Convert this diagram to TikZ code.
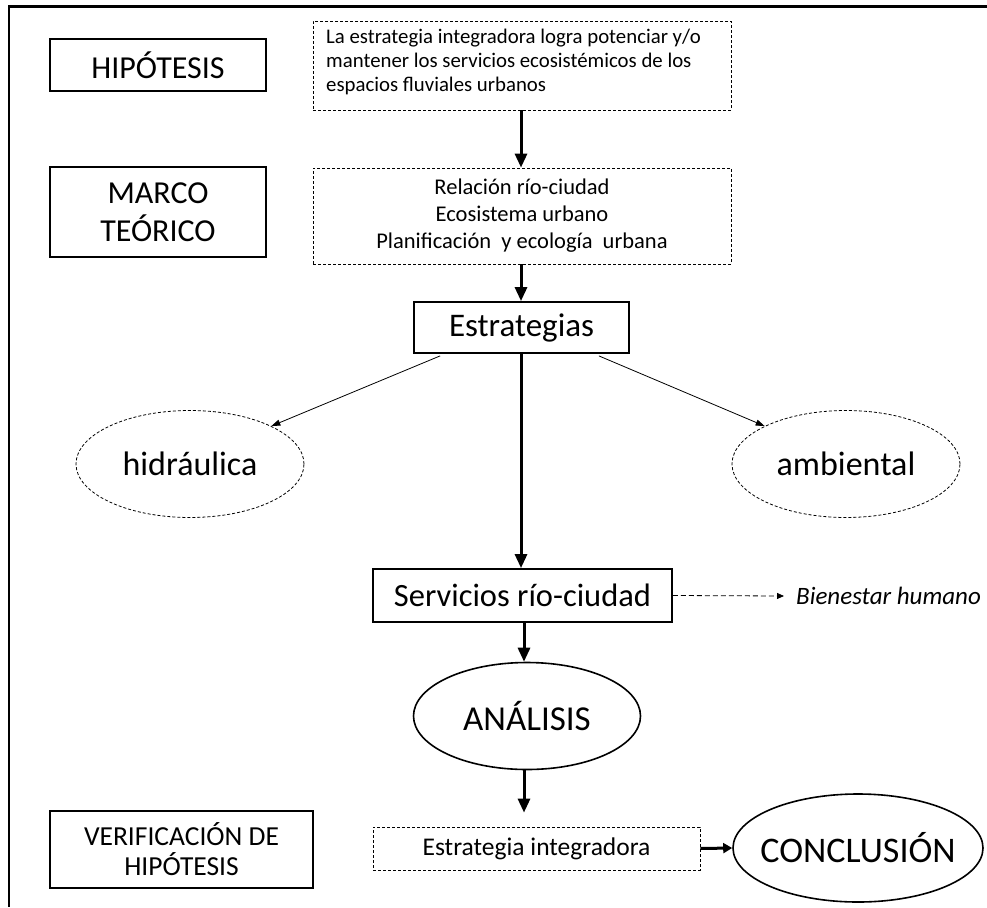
\documentclass[tikz,border=0pt]{standalone}
\usepackage{fontspec}
\setmainfont{Carlito}
\usetikzlibrary{arrows.meta,shapes.geometric,calc}
\begin{document}
\begin{tikzpicture}[x=1pt,y=-1pt,
  solidbox/.style={draw,line width=1.8pt,inner sep=0pt,align=center},
  dashbox/.style={draw,line width=0.8pt,dash pattern=on 3pt off 2pt,inner sep=0pt,align=center},
  dashell/.style={draw,ellipse,line width=0.8pt,dash pattern=on 3pt off 2pt,inner sep=0pt},
  solidell/.style={draw,ellipse,line width=1.6pt,inner sep=0pt},
  bigarrow/.style={line width=3pt,-{Triangle[width=12pt,length=14pt]}},
  thinarrow/.style={line width=0.8pt,-{Triangle[width=6pt,length=9pt]}},
  dasharrow/.style={line width=0.8pt,dash pattern=on 5pt off 3pt,-{Triangle[width=6pt,length=7pt]}},
  big/.style={font=\fontsize{33}{38}\selectfont},
]
\useasboundingbox (0,0) rectangle (987,907);
% frame
\draw[line width=3pt] (9,7) coordinate (tl) -- (987,7) coordinate (tr);
\draw[line width=1.2pt] (9,5.5) -- (9,907) coordinate (bl);

\node[solidbox,minimum width=216pt,minimum height=52pt,font=\fontsize{32}{38}\selectfont] (hip) at (158,65) {HIPÓTESIS};
\node[dashbox,minimum width=418pt,minimum height=89pt] (hyp) at (522,65.5) {};
\node[anchor=north west,align=left,inner sep=0pt,font=\fontsize{20.8}{24}\selectfont] (hyptext) at (326,29)
  {La estrategia integradora logra potenciar y/o\\mantener los servicios ecosistémicos de los\\espacios fluviales urbanos};

\node[solidbox,minimum width=216pt,minimum height=90pt,font=\fontsize{32}{38}\selectfont] (marco) at (158,212) {MARCO\\TEÓRICO};
\node[dashbox,minimum width=418pt,minimum height=96pt,font=\fontsize{22.5}{27}\selectfont] (mt) at (522,216)
  {Relación río-ciudad\\Ecosistema urbano\\Planificación \ y ecología \ urbana};

\node[solidbox,minimum width=215pt,minimum height=51pt,big] (estr) at (521.5,327.5) {Estrategias};
\node[dashell,minimum width=228pt,minimum height=107pt,font=\fontsize{34}{38}\selectfont] (hidr) at (190,464) {\makebox[0pt]{hidráulica}};
\node[dashell,minimum width=228pt,minimum height=107pt,font=\fontsize{34}{38}\selectfont] (amb) at (846,464) {\makebox[0pt]{ambiental}};

\node[solidbox,minimum width=299pt,minimum height=53pt,font=\fontsize{32.5}{38}\selectfont] (serv) at (522.5,595.5) {Servicios río-ciudad};
\node[anchor=west,inner sep=0pt,font=\fontsize{25}{28}\selectfont\itshape] (bien) at (796,596) {Bienestar humano};

\node[solidell,minimum width=227pt,minimum height=107pt,font=\fontsize{35}{40}\selectfont] (anal) at (527,716) {\makebox[0pt]{ANÁLISIS}};

\node[solidbox,minimum width=263pt,minimum height=77pt,font=\fontsize{27.5}{30}\selectfont] (verif) at (181.5,849.5) {VERIFICACIÓN DE\\HIPÓTESIS};
\node[dashbox,minimum width=327pt,minimum height=43pt,font=\fontsize{25.5}{28}\selectfont] (ei) at (536.5,848.5) {Estrategia integradora};
\node[solidell,minimum width=250pt,minimum height=108pt,font=\fontsize{36}{40}\selectfont] (concl) at (858,848) {\makebox[0pt]{CONCLUSIÓN}};

% connectors
\draw[bigarrow] (hyp.south -| 521,0) -- (mt.north -| 521,0);
\draw[bigarrow] (mt.south -| 521,0) -- (estr.north -| 521,0);
\draw[bigarrow] (estr.south -| 521,0) -- (serv.north -| 521,0);
\draw[thinarrow] ($(estr.south west)+(27,2)$) -- (hidr.25);
\draw[thinarrow] ($(estr.south east)+(-31,2)$) -- (amb.155);
\draw[dasharrow] (serv.east) -- ($(bien.west)+(-12,0)$);
\draw[bigarrow] (serv.south -| 524,0) -- (anal.north -| 524,0);
\draw[bigarrow,shorten >=14pt] (anal.south -| 524,0) -- (ei.north -| 524,0);
\draw[line width=3pt,-{Triangle[width=10pt,length=9pt]}] (ei.east) -- (concl.west);
\end{tikzpicture}
\end{document}
